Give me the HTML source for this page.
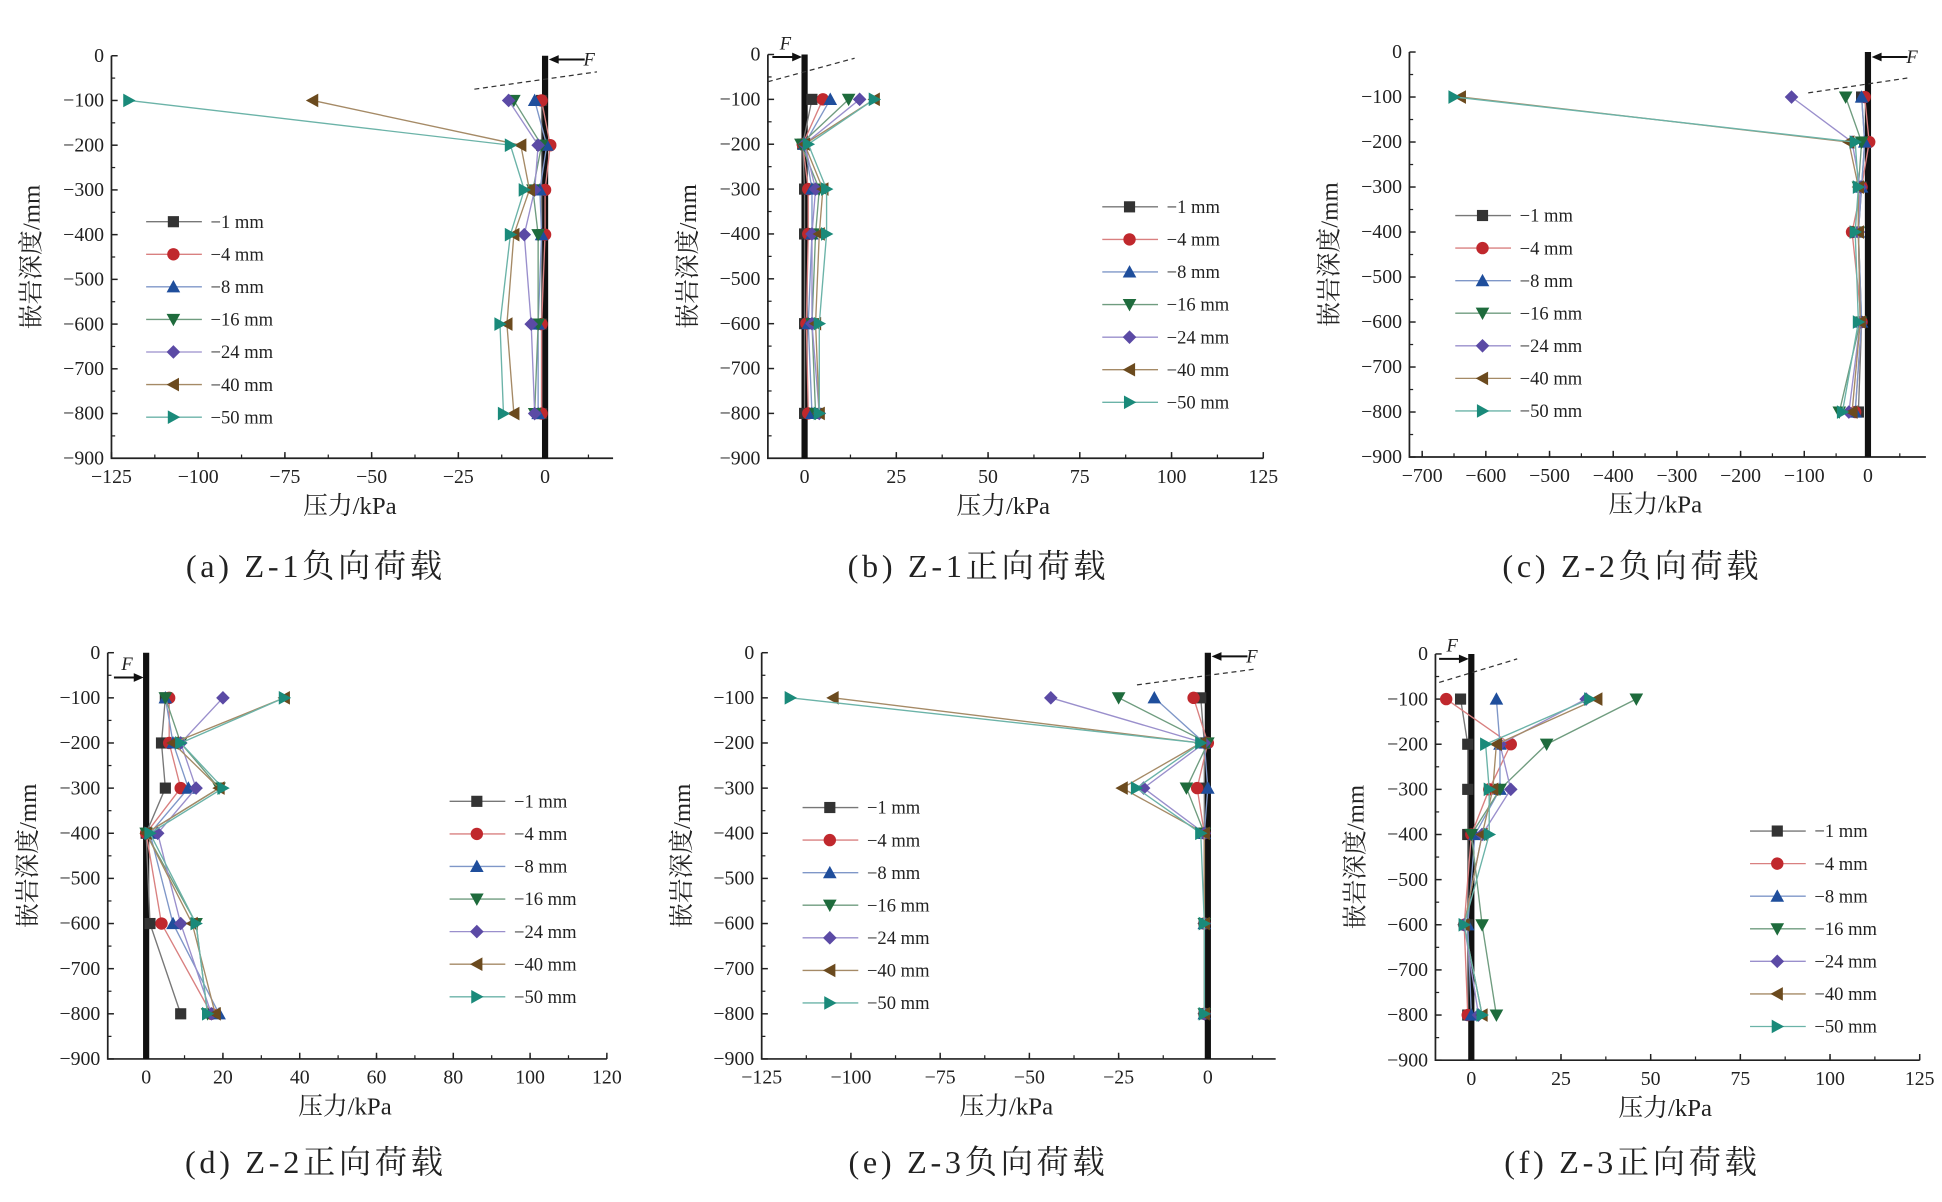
<!DOCTYPE html>
<html><head><meta charset="utf-8">
<style>
html,body{margin:0;padding:0;background:#fff;}
svg{display:block;}
text{font-family:"Liberation Serif","Noto Serif CJK SC",serif;fill:#222;}
.cap{font-family:"Liberation Serif","Noto Serif CJK SC",serif;font-size:26px;letter-spacing:3px;}
</style></head>
<body>
<svg id="chart" width="1942" height="1202" viewBox="0 0 1568 970.5" xmlns="http://www.w3.org/2000/svg"></svg>
<script>
const depths = [-100, -200, -300, -400, -600, -800];
const seriesLabels = ["−1 mm","−4 mm","−8 mm","−16 mm","−24 mm","−40 mm","−50 mm"];
const panelCaptions = ["(a) Z-1负向荷载","(b) Z-1正向荷载","(c) Z-2负向荷载","(d) Z-2正向荷载","(e) Z-3负向荷载","(f) Z-3正向荷载"];
const yTicks = [0,-100,-200,-300,-400,-500,-600,-700,-800,-900];
const ticksA = [-125,-100,-75,-50,-25,0];
const ticksB = [0,25,50,75,100,125];
const ticksC = [-700,-600,-500,-400,-300,-200,-100,0];
const ticksD = [0,20,40,60,80,100,120];
const ticksE = [-125,-100,-75,-50,-25,0];
const ticksF = [0,25,50,75,100,125];
const dataA = [[-1,-1,-1,-1,-1,-1],[-1,1.5,0,0,-1,-1],[-3,0.5,-1.5,-1,-2,-2],[-9,-1,-3.5,-2,-2,-3],[-10.5,-2,-3,-6,-4,-3],[-67,-7,-4.5,-9,-11,-9],[-120,-10,-6,-10,-13,-12]];
const dataB = [[2,-0.5,0,0,0,0],[5,-0.5,1,1,0.5,1],[7,0,2,2,1,2],[12,-1,4,3,2,3],[15,0,3,2,2,4],[19,0,5,4,3,4],[19,1,6,6,4,4]];
const dataC = [[-10,-5,-10,-15,-10,-15],[-5,2,-10,-25,-10,-20],[-10,-5,-10,-15,-10,-20],[-35,-10,-15,-15,-12,-45],[-120,-25,-12,-15,-12,-30],[-640,-30,-15,-15,-12,-25],[-650,-20,-15,-20,-15,-40]];
const dataD = [[5,4,5,0,1,9],[6,6,9,0,4,17],[5,7,11,1,7,19],[5,9,19,0,13,16],[20,9,13,3,9,17],[36,7,19,0,12,18],[36,9,20,1,13,16]];
const dataE = [[-2,-1,-1,-1,-1,-1],[-4,0,-3,-1,-1,-1],[-15,-1,0,-1,-1,-1],[-25,0,-6,-1,-1,-1],[-44,-1,-18,-1,-1,-1],[-105,-2,-24,-1,-1,-1],[-117,-2,-20,-2,-1,-1]];
const dataF = [[-3,-1,-1,-1,-1,-1],[-7,11,5,0,-2,-1],[7,8,8,1,-1,0],[46,21,8,0,3,7],[32,8,11,3,-2,2],[35,7,6,3,-2,3],[33,4,5,5,-2,3]];

const colors = ["#333333","#c0282d","#1f4e9c","#1e6b3c","#5b4aa5","#6b4a1e","#1a8a7a"];
const lineColors = ["#777","#d98080","#7f97c8","#6f9c7f","#9a8fcc","#a58a66","#6bb3a8"];
const NS = "http://www.w3.org/2000/svg";
const svg = document.getElementById('chart');

function el(tag, attrs, parent, txt){
  const e = document.createElementNS(NS, tag);
  for (const k in attrs) e.setAttribute(k, attrs[k]);
  if (txt !== undefined) e.textContent = txt;
  (parent||svg).appendChild(e);
  return e;
}
function marker(g, k, x, y){
  const c = colors[k], s = 5.5;
  let m;
  if (k===0) m = el('rect',{x:x-s+1,y:y-s+1,width:2*s-2,height:2*s-2,fill:c},g);
  else if (k===1) m = el('circle',{cx:x,cy:y,r:s-0.5,fill:c},g);
  else if (k===2) m = el('polygon',{points:`${x},${y-s} ${x+s},${y+s-1} ${x-s},${y+s-1}`,fill:c},g);
  else if (k===3) m = el('polygon',{points:`${x},${y+s} ${x+s},${y-s+1} ${x-s},${y-s+1}`,fill:c},g);
  else if (k===4) m = el('polygon',{points:`${x},${y-s} ${x+s},${y} ${x},${y+s} ${x-s},${y}`,fill:c},g);
  else if (k===5) m = el('polygon',{points:`${x-s},${y} ${x+s-1},${y-s} ${x+s-1},${y+s}`,fill:c},g);
  else m = el('polygon',{points:`${x+s},${y} ${x-s+1},${y-s} ${x-s+1},${y+s}`,fill:c},g);
  
  
}

const panels = [
 {data:dataA,ticks:ticksA,minor:12.5,xmin:-125,xmax:19.6,L:90,R:495,T:45,B:370,legX:118,legY:179,arrow:'left',fx:440,fy:48,dash:[383,72,482,58],cx:255,cy:466},
 {data:dataB,ticks:ticksB,minor:12.5,xmin:-10,xmax:125,L:620,R:1020,T:44,B:370,legX:890,legY:167,arrow:'right',fx:650,fy:46,dash:[620,66,690,47],cx:790,cy:466},
 {data:dataC,ticks:ticksC,minor:50,xmin:-720,xmax:91,L:1138,R:1555,T:42,B:369,legX:1175,legY:174,arrow:'left',fx:1508,fy:46,dash:[1460,75,1540,63],cx:1318,cy:466},
 {data:dataD,ticks:ticksD,minor:10,xmin:-10,xmax:120,L:87,R:490,T:527,B:855,legX:363,legY:647,arrow:'right',fx:118,fy:547,dash:null,cx:255,cy:947},
 {data:dataE,ticks:ticksE,minor:12.5,xmin:-125,xmax:19,L:615,R:1030,T:527,B:855,legX:648,legY:652,arrow:'left',fx:975,fy:530,dash:[918,553,1015,540],cx:790,cy:947},
 {data:dataF,ticks:ticksF,minor:12.5,xmin:-10,xmax:125,L:1159,R:1550,T:528,B:856,legX:1413,legY:671,arrow:'right',fx:1188,fy:532,dash:[1162,551,1225,532],cx:1318,cy:947}
];

panels.forEach((p, pi) => {
  const g = el('g',{});
  
  
  const xs = v => p.L + (v - p.xmin) / (p.xmax - p.xmin) * (p.R - p.L);
  const ys = v => p.T + (0 - v) / 900 * (p.B - p.T);
  const ax = el('path',{d:`M${p.L},${p.T} V${p.B} H${p.R}`,stroke:'#222','stroke-width':1.4,fill:'none'},g);
  
  
  yTicks.forEach(t => {
    const y = ys(t);
    el('line',{x1:p.L,x2:p.L+5,y1:y,y2:y,stroke:'#222','stroke-width':1.2},g);
    if (t>-900) el('line',{x1:p.L,x2:p.L+3,y1:y+(p.B-p.T)/18,y2:y+(p.B-p.T)/18,stroke:'#222','stroke-width':1},g);
    const lab = el('text',{x:p.L-6,y:y+5,'text-anchor':'end','font-size':16},g,t===0?'0':'−'+(-t));
    
    
  });
  for (let v = p.ticks[0]; v <= p.xmax; v += p.minor) {
    const x = xs(v);
    if (x < p.L-0.5) continue;
    el('line',{x1:x,x2:x,y1:p.B,y2:p.B-3,stroke:'#222','stroke-width':1},g);
  }
  p.ticks.forEach(t => {
    const x = xs(t);
    el('line',{x1:x,x2:x,y1:p.B,y2:p.B-5,stroke:'#222','stroke-width':1.2},g);
    const lab = el('text',{x:x,y:p.B+20,'text-anchor':'middle','font-size':16},g,t<0?'−'+(-t):String(t));
    
    
  });
  const xt = el('text',{x:(p.L+p.R)/2-10,y:p.B+45,'text-anchor':'middle','font-size':20},g,'压力/kPa');
  
  
  const yt = el('text',{x:0,y:0,'text-anchor':'middle','font-size':20,transform:`translate(${p.L-58},${(p.T+p.B)/2}) rotate(-90)`},g,'嵌岩深度/mm');
  
  
  const x0 = xs(0);
  const pile = el('line',{x1:x0,x2:x0,y1:p.T,y2:p.B,stroke:'#111','stroke-width':5},g);
  
  
  p.data.forEach((vals, k) => {
    const pts = vals.map((v,i)=>`${xs(v).toFixed(1)},${ys(depths[i]).toFixed(1)}`).join(' ');
    const ln = el('polyline',{points:pts,fill:'none',stroke:lineColors[k],'stroke-width':1.1},g);
    
    
    vals.forEach((v,i)=>marker(g,k,xs(v),ys(depths[i])));
  });
  const fy = p.fy;
  if (p.arrow==='left') {
    el('line',{x1:x0+32,x2:x0+8,y1:fy,y2:fy,stroke:'#111','stroke-width':1.6},g);
    el('polygon',{points:`${x0+3},${fy} ${x0+11},${fy-3.5} ${x0+11},${fy+3.5}`,fill:'#111'},g);
    el('text',{x:x0+31,y:fy+5,'font-size':15,'font-style':'italic'},g,'F');
  } else {
    el('line',{x1:x0-26,x2:x0-6,y1:fy,y2:fy,stroke:'#111','stroke-width':1.6},g);
    el('polygon',{points:`${x0-2},${fy} ${x0-10},${fy-3.5} ${x0-10},${fy+3.5}`,fill:'#111'},g);
    el('text',{x:x0-20,y:fy-6,'font-size':15,'font-style':'italic'},g,'F');
  }
  if (p.dash) el('line',{x1:p.dash[0],y1:p.dash[1],x2:p.dash[2],y2:p.dash[3],stroke:'#333','stroke-width':1,'stroke-dasharray':'4,3'},g);
  const lg = el('g',{},g);
  
  
  seriesLabels.forEach((s,k) => {
    const y = p.legY + k*26.3;
    const e = el('g',{},lg);
    
    
    el('line',{x1:p.legX,x2:p.legX+45,y1:y,y2:y,stroke:lineColors[k],'stroke-width':1.1},e);
    marker(e,k,p.legX+22,y);
    el('text',{x:p.legX+52,y:y+5,'font-size':15},e,s);
  });
  const cap = el('text',{x:p.cx,y:p.cy,'text-anchor':'middle',class:'cap'},g,panelCaptions[pi]);
  
  
});
</script>
</body></html>
